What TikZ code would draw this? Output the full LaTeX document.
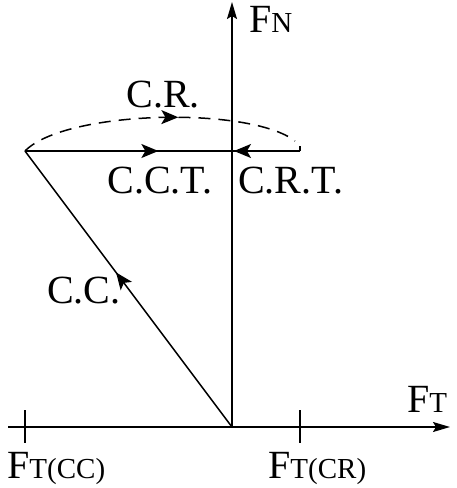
\documentclass[tikz,border=0pt]{standalone}
\usepackage{fontspec}
\setmainfont{Liberation Serif}
\usetikzlibrary{arrows.meta,decorations.markings}
\begin{document}
\begin{tikzpicture}[x=1pt,y=-1pt,
  ln/.style={line width=1.5pt},
  axisarrow/.style={-{Stealth[length=17pt,width=10pt,inset=3pt]}},
  midarrow/.style={postaction={decorate},decoration={markings,
     mark=at position #1 with {\arrow{Stealth[length=17pt,width=14pt,inset=4pt]}}}},
  lbl/.style={inner sep=0pt,font=\fontsize{40}{40}\selectfont},
  sub/.style={}]
\useasboundingbox (0,0) rectangle (456,488);
\coordinate (O) at (232,427);
\coordinate (L) at (8,427);
\coordinate (R) at (450,427);
\coordinate (Top) at (232,2);
\coordinate (A) at (25,151);
\coordinate (B) at (300,151);
\coordinate (Bu) at (300,146);
\coordinate (E) at (295,141);
\coordinate (T1a) at (25,410);
\coordinate (T1b) at (25,443);
\coordinate (T2a) at (300,410);
\coordinate (T2b) at (300,443);
% axes
\draw[ln,axisarrow] (L) -- (R);
\draw[ln,axisarrow] (O) -- (Top);
\draw[ln] (T1a) -- (T1b);
\draw[ln] (T2a) -- (T2b);
% horizontal line with arrows
\draw[ln,midarrow=0.485] (A) -- (B);
\draw[ln,midarrow=0.24] (B) -- (A);
\draw[ln] (B) -- (Bu);
% diagonal
\draw[ln,midarrow=0.56] (O) -- (A);
% dashed arc
\draw[ln,dash pattern=on 12pt off 8pt,midarrow=0.57] (A) .. controls (65,110) and (250,106) .. (E);
% labels
\node[lbl,anchor=base west] (FN) at (249,32) {F{\fontsize{29}{29}\selectfont N}};
\node[lbl,anchor=base west] (FT) at (407,412) {F{\fontsize{29}{29}\selectfont T}};
\node[lbl,anchor=base west] (FTCC) at (7,478) {F{\fontsize{29}{29}\selectfont T(CC)}};
\node[lbl,anchor=base west] (FTCR) at (268,478) {F{\fontsize{29}{29}\selectfont T(CR)}};
\node[lbl,anchor=base] (CR) at (163,107) {C.R.};
\node[lbl,anchor=base] (CCT) at (160,193) {C.C.T.};
\node[lbl,anchor=base west] (CRT) at (238,193) {C.R.T.};
\node[lbl,anchor=base west] (CC) at (47,303) {C.C.};
\end{tikzpicture}
\end{document}
